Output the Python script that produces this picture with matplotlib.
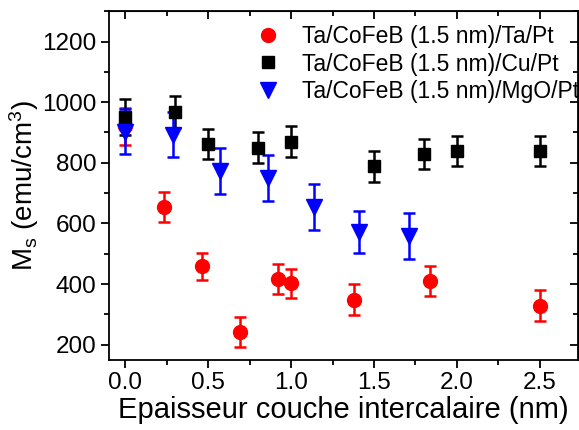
import matplotlib
matplotlib.use('Agg')
import matplotlib.pyplot as plt
from matplotlib.lines import Line2D
from matplotlib.ticker import MultipleLocator

plt.rcParams['font.family'] = ['Liberation Sans', 'DejaVu Sans']
plt.rcParams['mathtext.fontset'] = 'custom'
plt.rcParams['mathtext.rm'] = 'Liberation Sans'
plt.rcParams['mathtext.it'] = 'Liberation Sans'

labels = ['Ta/CoFeB (1.5 nm)/Ta/Pt', 'Ta/CoFeB (1.5 nm)/Cu/Pt',
          'Ta/CoFeB (1.5 nm)/MgO/Pt']

# Ta/CoFeB (1.5 nm)/Ta/Pt
ta_x = [0.0, 0.23, 0.46, 0.69, 0.92, 1.0, 1.38, 1.84, 2.5]
ta_y = [920, 655, 459, 243, 416, 403, 349, 411, 329]
ta_err = [60, 50, 45, 50, 50, 48, 50, 50, 50]

# Ta/CoFeB (1.5 nm)/Cu/Pt
cu_x = [0.0, 0.3, 0.5, 0.8, 1.0, 1.5, 1.8, 2.0, 2.5]
cu_y = [951, 968, 862, 850, 870, 788, 830, 839, 839]
cu_err = [60, 52, 50, 50, 50, 50, 50, 50, 50]

# Ta/CoFeB (1.5 nm)/MgO/Pt
mgo_x = [0.0, 0.29, 0.57, 0.86, 1.14, 1.41, 1.71]
mgo_y = [903, 893, 773, 750, 655, 572, 559]
mgo_err = [75, 75, 75, 75, 75, 70, 75]

fig = plt.figure(figsize=(5.79, 4.30), dpi=100)
ax = fig.add_axes([0.188, 0.163, 0.81, 0.811])

series = [
    (ta_x, ta_y, ta_err, 'o', '#ff0000', 10),
    (cu_x, cu_y, cu_err, 's', 'black', 8.5),
    (mgo_x, mgo_y, mgo_err, 'v', '#0000ff', 11),
]
handles = []
for (x, y, e, m, c, ms), lab in zip(series, labels):
    ax.errorbar(x, y, yerr=e, fmt=m, color=c, ms=ms, linestyle='none',
                elinewidth=1.8, capsize=4, capthick=1.8)
    handles.append(Line2D([], [], marker=m, color=c, ms=ms, linestyle='none',
                          label=lab))

ax.set_xlim(-0.1, 2.73)
ax.set_ylim(150, 1300)
ax.xaxis.set_major_locator(MultipleLocator(0.5))
ax.xaxis.set_minor_locator(MultipleLocator(0.25))
ax.yaxis.set_major_locator(MultipleLocator(200))
ax.yaxis.set_minor_locator(MultipleLocator(100))
ax.set_yticks([200, 400, 600, 800, 1000, 1200])

ax.tick_params(which='both', direction='out', width=1.3, labelsize=17.5,
               top=False, right=False, pad=3)
ax.tick_params(which='major', length=6)
ax.tick_params(which='minor', length=3.5)

# mirrored ticks pointing inward on top/right
sec_x = ax.secondary_xaxis('top')
sec_x.xaxis.set_major_locator(MultipleLocator(0.5))
sec_x.xaxis.set_minor_locator(MultipleLocator(0.25))
sec_x.tick_params(which='both', direction='in', width=1.3, labeltop=False)
sec_x.tick_params(which='major', length=6)
sec_x.tick_params(which='minor', length=3.5)
sec_y = ax.secondary_yaxis('right')
sec_y.yaxis.set_major_locator(MultipleLocator(200))
sec_y.yaxis.set_minor_locator(MultipleLocator(100))
sec_y.tick_params(which='both', direction='in', width=1.3, labelright=False)
sec_y.tick_params(which='major', length=6)
sec_y.tick_params(which='minor', length=3.5)

for sp in ax.spines.values():
    sp.set_linewidth(1.3)

ax.set_xlabel('Epaisseur couche intercalaire (nm)', fontsize=21, labelpad=1)
ax.set_ylabel('M$_\\mathrm{s}$ (emu/cm$^\\mathrm{3}$)', fontsize=20, labelpad=1)

ax.legend(handles=handles, loc='upper right', frameon=False, fontsize=16.5,
          handlelength=1.0, handletextpad=1.0, labelspacing=0.2,
          borderaxespad=0.1, borderpad=0.5, bbox_to_anchor=(1.033, 1.0))

fig.savefig('out.png', dpi=100)
